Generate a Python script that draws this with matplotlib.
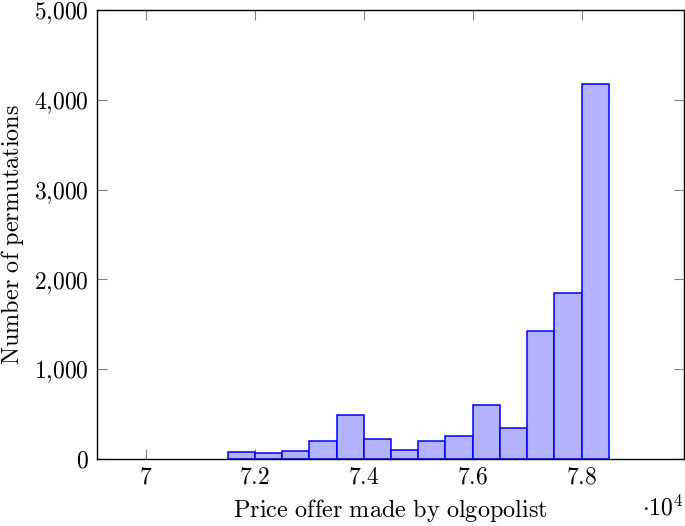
import numpy as np
import matplotlib
matplotlib.use("Agg")
import matplotlib.pyplot as plt
from matplotlib.ticker import FuncFormatter

plt.rcParams['mathtext.fontset'] = 'cm'
plt.rcParams['font.family'] = 'serif'
plt.rcParams['font.serif'] = ['DejaVu Serif']

# histogram bins (left edges) and counts
bin_left = [71500, 72000, 72500, 73000, 73500, 74000, 74500,
            75000, 75500, 76000, 76500, 77000, 77500, 78000]
bin_width = 500
counts = [75, 70, 85, 200, 490, 220, 95,
          198, 260, 598, 340, 1420, 1845, 4180]

x_ticks = [70000, 72000, 74000, 76000, 78000]
y_ticks = [0, 1000, 2000, 3000, 4000, 5000]

fig = plt.figure(figsize=(6.85, 5.26), dpi=100)
ax = fig.add_axes([97/685, 67/526, 587/685, 449/526])

ax.bar(bin_left, counts, width=bin_width, align='edge',
       color='#b3b3ff', edgecolor='#0000ff', linewidth=1.1, zorder=3)

ax.set_xlim(69100, 79880)
ax.set_ylim(0, 5000)

ax.set_xticks(x_ticks)
ax.set_yticks(y_ticks)
ax.xaxis.set_major_formatter(FuncFormatter(lambda v, p: r'$%g$' % (v / 1e4)))
ax.yaxis.set_major_formatter(FuncFormatter(lambda v, p: r'$%s$' % '{:,}'.format(int(v)).replace(',', '{,}')))

ax.tick_params(direction='in', length=7, width=0.8, color='#808080',
               top=True, right=True, labelsize=17, pad=5)
ax.tick_params(axis='y', pad=6)
for sp in ax.spines.values():
    sp.set_linewidth(1.0)
    sp.set_zorder(4)

ax.set_xlabel(r'$\mathrm{Price\ offer\ made\ by\ olgopolist}$', fontsize=17.5, labelpad=6)
ax.set_ylabel(r'$\mathrm{Number\ of\ permutations}$', fontsize=17.5, labelpad=6)

fig.text(683/685, 1 - 515/526, r'$\cdot 10^{4}$', ha='right', va='baseline', fontsize=17)

fig.savefig('out.png', dpi=100)
